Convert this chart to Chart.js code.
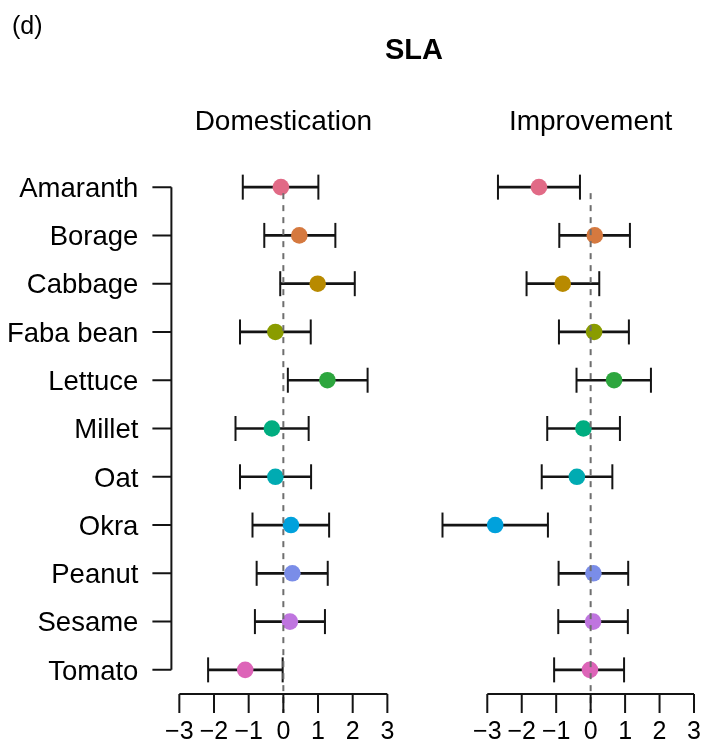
<!DOCTYPE html>
<html>
<head>
<meta charset="utf-8">
<script src="https://cdn.jsdelivr.net/npm/chart.js@4"></script>
<style>
  body { margin: 0; background: #fff; }
  #wrap { position: relative; width: 704px; height: 746px; }
  #wrap canvas { position: absolute; left: 0; top: 0; }
</style>
</head>
<body>
<div id="wrap">
  <canvas id="domChart" width="704" height="746"></canvas>
  <canvas id="impChart" width="704" height="746"></canvas>
</div>
<script>
const crops = ['Amaranth', 'Borage', 'Cabbage', 'Faba bean', 'Lettuce', 'Millet', 'Oat', 'Okra', 'Peanut', 'Sesame', 'Tomato'];
const cropColors = ['#E16A86', '#D5793F', '#B88A00', '#8A9C00', '#2DA63E', '#00AD80', '#00ABB2', '#00A1DC', '#7A8DE8', '#BF75DF', '#DD64B8'];

// effect size with lower / upper interval, per crop
const domMean  = [-0.07, 0.46, 0.99, -0.23, 1.27, -0.33, -0.23, 0.22, 0.26, 0.19, -1.10];
const domLower = [-1.17, -0.55, -0.09, -1.25, 0.13, -1.38, -1.25, -0.89, -0.77, -0.82, -2.17];
const domUpper = [1.01, 1.50, 2.06, 0.79, 2.43, 0.73, 0.80, 1.32, 1.28, 1.20, -0.02];

const impMean  = [-1.50, 0.12, -0.81, 0.10, 0.68, -0.21, -0.40, -2.77, 0.08, 0.07, -0.02];
const impLower = [-2.69, -0.91, -1.86, -0.92, -0.41, -1.26, -1.42, -4.30, -0.93, -0.94, -1.06];
const impUpper = [-0.31, 1.14, 0.25, 1.11, 1.75, 0.85, 0.63, -1.24, 1.09, 1.08, 0.97];

const xTicks = [-3, -2, -1, 0, 1, 2, 3];

const FONT = '"Liberation Sans", Arial, Helvetica, sans-serif';
const INK = '#141414';

// base-graphics style axes, zero line and panel heading
const plotAxes = {
    id: 'plotAxes',
    afterDatasetsDraw(chart, args, opts) {
        const ctx = chart.ctx;
        const xs = chart.scales.x;
        const ys = chart.scales.y;
        const bottom = chart.chartArea.bottom;
        const tickLen = 19;
        ctx.save();

        // dashed line at zero
        const x0 = xs.getPixelForValue(0);
        ctx.strokeStyle = '#6e6e6e';
        ctx.lineWidth = 2;
        ctx.setLineDash([6, 6]);
        ctx.beginPath();
        ctx.moveTo(x0, ys.getPixelForValue(0) + 6);
        ctx.lineTo(x0, bottom + tickLen);
        ctx.stroke();
        ctx.setLineDash([]);

        // x axis
        ctx.strokeStyle = INK;
        ctx.beginPath();
        ctx.moveTo(xs.getPixelForValue(xTicks[0]), bottom);
        ctx.lineTo(xs.getPixelForValue(xTicks[xTicks.length - 1]), bottom);
        xTicks.forEach(t => {
            const px = xs.getPixelForValue(t);
            ctx.moveTo(px, bottom);
            ctx.lineTo(px, bottom + tickLen);
        });
        ctx.stroke();
        ctx.fillStyle = '#000';
        ctx.font = '25px ' + FONT;
        ctx.textAlign = 'center';
        ctx.textBaseline = 'alphabetic';
        xTicks.forEach(t => {
            const txt = t < 0 ? '\u2212' + Math.abs(t) : String(t);
            ctx.fillText(txt, xs.getPixelForValue(t), bottom + 45);
        });

        // crop axis on the left panel only
        if (opts.cropAxis) {
            const axX = chart.chartArea.left - 1;
            ctx.beginPath();
            ctx.moveTo(axX, ys.getPixelForValue(0));
            ctx.lineTo(axX, ys.getPixelForValue(crops.length - 1));
            crops.forEach((c, i) => {
                const py = ys.getPixelForValue(i);
                ctx.moveTo(axX, py);
                ctx.lineTo(axX - tickLen, py);
            });
            ctx.stroke();
            ctx.font = '27.5px ' + FONT;
            ctx.textAlign = 'right';
            crops.forEach((c, i) => {
                ctx.fillText(c, axX - 33, ys.getPixelForValue(i) + 9.8);
            });
        }

        // panel heading
        ctx.font = '28px ' + FONT;
        ctx.textAlign = 'center';
        ctx.fillText(opts.heading, x0, 130);

        if (opts.figureTitle) {
            ctx.textAlign = 'left';
            ctx.font = '25px ' + FONT;
            ctx.fillText('(d)', 12, 34);
            ctx.textAlign = 'center';
            ctx.font = 'bold 29px ' + FONT;
            ctx.fillText(opts.figureTitle, 414, 59);
        }
        ctx.restore();
    }
};

function makePanel(canvasId, mean, lower, upper, xMin, xMax, padding, extra) {
    const ctx = document.getElementById(canvasId).getContext('2d');
    return new Chart(ctx, {
        type: 'bar',
        data: {
            labels: crops,
            datasets: [
                {
                    // whisker line
                    type: 'bar',
                    data: crops.map((c, i) => [lower[i], upper[i]]),
                    backgroundColor: INK,
                    borderWidth: 0,
                    barThickness: 2,
                    order: 3
                },
                {
                    // whisker caps
                    type: 'scatter',
                    data: crops.map((c, i) => ({ x: lower[i], y: c }))
                        .concat(crops.map((c, i) => ({ x: upper[i], y: c }))),
                    pointStyle: 'line',
                    rotation: 90,
                    radius: 12.5,
                    borderWidth: 2,
                    borderColor: INK,
                    clip: false,
                    order: 2
                },
                {
                    type: 'scatter',
                    data: crops.map((c, i) => ({ x: mean[i], y: c })),
                    pointStyle: 'circle',
                    radius: 8.3,
                    borderWidth: 0,
                    backgroundColor: cropColors,
                    clip: false,
                    order: 1
                }
            ]
        },
        options: {
            indexAxis: 'y',
            responsive: false,
            animation: false,
            devicePixelRatio: 1,
            layout: { padding: padding, autoPadding: false },
            scales: {
                x: { type: 'linear', min: xMin, max: xMax, offset: false, display: false },
                y: { type: 'category', labels: crops, offset: true, display: false }
            },
            plugins: {
                legend: { display: false },
                tooltip: { enabled: false },
                plotAxes: extra
            }
        },
        plugins: [plotAxes]
    });
}

makePanel('domChart', domMean, domLower, domUpper, -3.2, 3.2,
    { left: 172.4, right: 309.7, top: 163, bottom: 52 },
    { heading: 'Domestication', cropAxis: true, figureTitle: 'SLA' });

makePanel('impChart', impMean, impLower, impUpper, -4.5, 3.2,
    { left: 435.6, right: 3.1, top: 163, bottom: 52 },
    { heading: 'Improvement', cropAxis: false });
</script>
</body>
</html>
